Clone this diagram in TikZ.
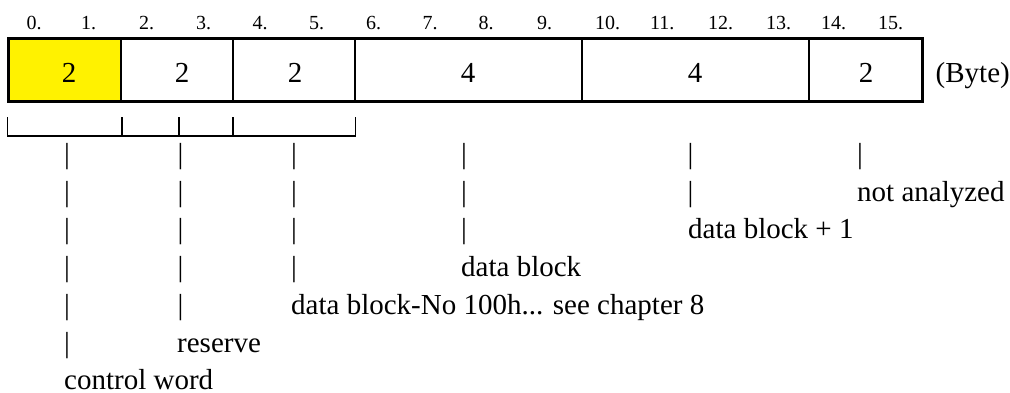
\documentclass[tikz,border=0pt]{standalone}
\usepackage{fontspec}
\setmainfont{Liberation Serif}
\begin{document}
\begin{tikzpicture}[x=1pt,y=-1pt,
  txt/.style={font=\fontsize{29}{34}\selectfont, inner sep=0pt, anchor=base west},
  lbl/.style={font=\fontsize{20}{24}\selectfont, inner sep=0pt, anchor=base west},
  num/.style={font=\fontsize{29}{34}\selectfont, inner sep=0pt, anchor=base},
  frame/.style={line width=3pt},
  divider/.style={line width=1.8pt},
  brk/.style={line width=1.6pt}]
\useasboundingbox (0,0) rectangle (1010,392);
% byte index labels
\foreach \i/\x in {0/26.5,1/81,2/139,3/196,4/252.5,5/309,6/366,7/422.5,8/478.5,9/537,10/595,11/650,12/708,13/766,14/821,15/878}
  \node[lbl] (lab\i) at (\x,29) {\i.};
% record frame
\fill[yellow] (9.5,40) rectangle (120,100);
\draw[frame] (8,38.5) rectangle (922.5,101.5);
\foreach \x in {120.7,233.3,355,581.7,809.3}
  \draw[divider] (\x,38.5) -- (\x,101.5);
% field sizes
\foreach \n/\x/\v in {c0/69/2,c1/182/2,c2/295/2,c3/468/4,c4/695/4,c5/866/2}
  \node[num] (\n) at (\x,82) {\v};
\node[txt] (unit) at (935.5,82.5) {(Byte)};
% bracket
\draw[brk] (7.5,117) -- (7.5,136) -- (355.5,136) -- (355.5,117);
\foreach \x in {122,179,233}
  \draw[brk] (\x,117) -- (\x,136);
% pipe columns
\foreach \c/\x/\n in {A/64/6,B/177.5/5,C/291/4,D/461/3,E/687.5/2,F/857/1}{
  \foreach \r in {1,...,\n}
    \node[txt] (\c\r) at (\x,{163.5+37.7*(\r-1)}) {|};
}
% descriptions
\node[txt] (tF) at (857,201.2) {not analyzed};
\node[txt] (tE) at (688,238.9) {data block + 1};
\node[txt] (tD) at (461,276.6) {data block};
\node[txt] (tC) at (291,314.3) {data block-No 100h... see chapter 8};
\node[txt] (tB) at (177,352) {reserve};
\node[txt] (tA) at (64,389.3) {control word};
\end{tikzpicture}
\end{document}
